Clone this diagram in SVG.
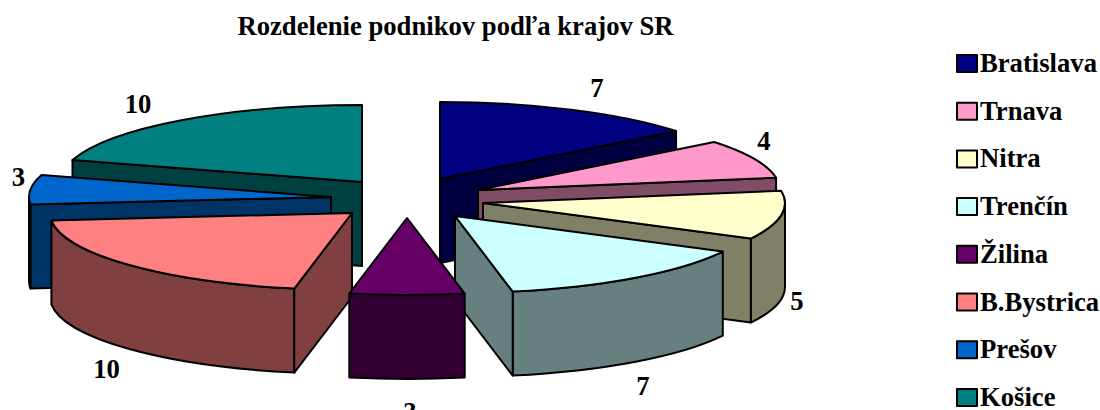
<svg xmlns="http://www.w3.org/2000/svg" width="1100" height="410" viewBox="0 0 1100 410">
<style>
text{font-family:"Liberation Serif","Times New Roman",serif;font-weight:bold;fill:#000;font-size:26.67px}
.t{text-anchor:middle}
.s{stroke:#000;stroke-width:2;stroke-linejoin:round}
</style>
<rect x="0" y="0" width="1100" height="410" fill="#fff"/>
<text class="t" x="455.5" y="35">Rozdelenie podnikov podľa krajov SR</text>
<g id="kosice" class="s">
<path d="M362,182 L72.5,160.1 L72.5,244.1 L362,266 Z" fill="#004040"/>
<path d="M362,182 L72.5,160.1 A302,77 0 0 1 362,105 Z" fill="#008080"/>
</g>
<g id="bratislava" class="s">
<path d="M440,179 L676.1,131 L676.1,215 L440,263 Z" fill="#000040"/>
<path d="M440,179 L440,102 A302,77 0 0 1 676.1,131 Z" fill="#000080"/>
</g>
<g id="presov" class="s">
<path d="M331,197 L30.4,204.4 L30.4,288.4 L331,281 Z" fill="#003366"/>
<path d="M30.4,204.4 A302,77 0 0 1 29,197 L29,281 A302,77 0 0 0 30.4,288.4 Z" fill="#003366"/>
<path d="M331,197 L30.4,204.4 A302,77 0 0 1 41.5,175.1 Z" fill="#0066CC"/>
</g>
<g id="trnava" class="s">
<path d="M478,190 L776.1,177.7 L776.1,261.7 L478,274 Z" fill="#804C66"/>
<path d="M478,190 L714.1,142 A302,77 0 0 1 776.1,177.7 Z" fill="#FF99CC"/>
</g>
<g id="nitra" class="s">
<path d="M785,203 A302,77 0 0 1 750.8,238.6 L750.8,322.6 A302,77 0 0 0 785,287 Z" fill="#808066"/>
<path d="M483,203 L750.8,238.6 L750.8,322.6 L483,287 Z" fill="#808066"/>
<path d="M483,203 L781.1,190.7 A302,77 0 0 1 750.8,238.6 Z" fill="#FFFFCC"/>
</g>
<g id="bbystrica" class="s">
<path d="M294.3,288.6 A302,77 0 0 1 51.4,220.4 L51.4,304.4 A302,77 0 0 0 294.3,372.6 Z" fill="#804040"/>
<path d="M352,213 L294.3,288.6 L294.3,372.6 L352,297 Z" fill="#804040"/>
<path d="M352,213 L294.3,288.6 A302,77 0 0 1 51.4,220.4 Z" fill="#FF8080"/>
</g>
<g id="trencin" class="s">
<path d="M722.8,251.6 A302,77 0 0 1 512.7,291.6 L512.7,375.6 A302,77 0 0 0 722.8,335.6 Z" fill="#668080"/>
<path d="M455,216 L512.7,291.6 L512.7,375.6 L455,300 Z" fill="#668080"/>
<path d="M455,216 L722.8,251.6 A302,77 0 0 1 512.7,291.6 Z" fill="#CCFFFF"/>
</g>
<g id="zilina" class="s">
<path d="M464.7,293.6 A302,77 0 0 1 349.3,293.6 L349.3,377.6 A302,77 0 0 0 464.7,377.6 Z" fill="#330033"/>
<path d="M407,218 L464.7,293.6 A302,77 0 0 1 349.3,293.6 Z" fill="#660066"/>
</g>
<g id="labels">
<text class="t" x="597" y="97">7</text>
<text class="t" x="764" y="150">4</text>
<text class="t" x="797" y="310">5</text>
<text class="t" x="643" y="395">7</text>
<text class="t" x="410" y="421">3</text>
<text class="t" x="106.5" y="378">10</text>
<text class="t" x="18.5" y="186">3</text>
<text class="t" x="138" y="113">10</text>
</g>
<g id="legend">
<rect class="s" x="957" y="55" width="20" height="17" fill="#000080"/><text x="980" y="72">Bratislava</text>
<rect class="s" x="957" y="102.7" width="20" height="17" fill="#FF99CC"/><text x="980" y="119.7">Trnava</text>
<rect class="s" x="957" y="150.4" width="20" height="17" fill="#FFFFCC"/><text x="980" y="167.4">Nitra</text>
<rect class="s" x="957" y="198.1" width="20" height="17" fill="#CCFFFF"/><text x="980" y="215.1">Trenčín</text>
<rect class="s" x="957" y="245.8" width="20" height="17" fill="#660066"/><text x="980" y="262.8">Žilina</text>
<rect class="s" x="957" y="293.5" width="20" height="17" fill="#FF8080"/><text x="980" y="310.5">B.Bystrica</text>
<rect class="s" x="957" y="341.2" width="20" height="17" fill="#0066CC"/><text x="980" y="358.2">Prešov</text>
<rect class="s" x="957" y="388.9" width="20" height="17" fill="#008080"/><text x="980" y="405.9">Košice</text>
</g>
</svg>
